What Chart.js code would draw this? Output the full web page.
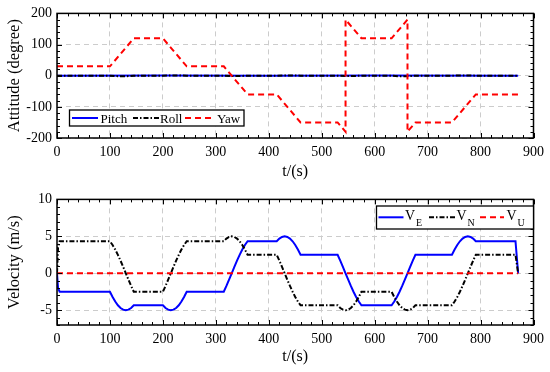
<!DOCTYPE html>
<html><head><meta charset="utf-8">
<script src="https://cdn.jsdelivr.net/npm/chart.js@4.4.0/dist/chart.umd.min.js"></script>
<style>
html,body{margin:0;padding:0;background:#fff;}
.w{position:absolute;left:0;width:550px;height:186px;}
#w1{top:0}#w2{top:186px}
</style></head><body>
<div class="w" id="w1"><canvas id="c1" width="550" height="186"></canvas></div>
<div class="w" id="w2"><canvas id="c2" width="550" height="186"></canvas></div>
<script>
// ---------- data ----------
const xTicks = [0,100,200,300,400,500,600,700,800,900];
const attTicks = [-200,-100,0,100,200];
const velTicks = [-5,0,5,10];

const yawT = [0,100,145,200,245,315,360,415,460,530,545,545,575,632,662,662,677,746,791,871];
const yawV = [30,30,120,120,30,30,-60,-60,-150,-150,-180,180,120,120,180,-180,-150,-150,-60,-60];
const pitchT = [0,200,400,600,871];
const pitchV = [0,0.5,0,0.5,0];
const rollT = [0,100,115,130,145,200,215,230,245,315,330,345,360,415,430,445,460,530,545,560,575,632,647,662,677,746,761,776,791,871];
const rollV = [0,0,-1.5,-2,0,0,1,1,0,0,-1,-1,0,0,1,1,0,0,-1,-1,0,0,-2,-1.5,0,0,1,1,0,0];

const velT = [0,2,5,
 100,105,110,115,120,125,130,135,140,145,
 200,205,210,215,220,225,230,235,240,245,
 315,320,325,330,335,340,345,350,355,360,
 415,420,425,430,435,440,445,450,455,460,
 530,535,540,545,550,555,560,565,570,575,
 632,637,642,647,652,657,662,667,672,677,
 746,751,756,761,766,771,776,781,786,791,
 866,871];
const veV = [0,-2.0,-2.5,
 -2.5,-3.21,-3.83,-4.33,-4.70,-4.92,-5.00,-4.92,-4.70,-4.33,
 -4.33,-4.70,-4.92,-5.00,-4.92,-4.70,-4.33,-3.83,-3.21,-2.50,
 -2.50,-1.71,-0.87,0,0.87,1.71,2.50,3.21,3.83,4.33,
 4.33,4.70,4.92,5.00,4.92,4.70,4.33,3.83,3.21,2.50,
 2.50,1.71,0.87,0,-0.87,-1.71,-2.50,-3.21,-3.83,-4.33,
 -4.33,-3.83,-3.21,-2.50,-1.71,-0.87,0,0.87,1.71,2.50,
 2.50,3.21,3.83,4.33,4.70,4.92,5.00,4.92,4.70,4.33,
 4.33,0];
const vnV = [0,3.5,4.33,
 4.33,3.83,3.21,2.50,1.71,0.87,0,-0.87,-1.71,-2.50,
 -2.50,-1.71,-0.87,0,0.87,1.71,2.50,3.21,3.83,4.33,
 4.33,4.70,4.92,5.00,4.92,4.70,4.33,3.83,3.21,2.50,
 2.50,1.71,0.87,0,-0.87,-1.71,-2.50,-3.21,-3.83,-4.33,
 -4.33,-4.70,-4.92,-5.00,-4.92,-4.70,-4.33,-3.83,-3.21,-2.50,
 -2.50,-3.21,-3.83,-4.33,-4.70,-4.92,-5.00,-4.92,-4.70,-4.33,
 -4.33,-3.83,-3.21,-2.50,-1.71,-0.87,0,0.87,1.71,2.50,
 2.50,0];
const vuT = [0,871];
const vuV = [0,0];

// ---------- helpers ----------
const FONT = "'Liberation Serif','Times New Roman',serif";
const pts = (t,v)=>t.map((x,i)=>({x:x,y:v[i]}));
const BLUE='#0000ff', RED='#ff0000', BLACK='#000000';
const DASHDOT=[5,2,1.5,2], DASH=[6,4];

function frameTicks(xMinor,yMinor,xMajor,yMajor){
  return {id:'frameTicks', afterDraw(chart){
    const {ctx, chartArea:a, scales:{x,y}} = chart;
    ctx.save();
    ctx.strokeStyle='#000'; ctx.lineWidth=1; ctx.setLineDash([]);
    ctx.beginPath();
    const n1=Math.round((x.max-x.min)/xMinor);
    for(let i=0;i<=n1;i++){
      const v=x.min+i*xMinor;
      const L=(Math.abs(v/xMajor-Math.round(v/xMajor))<1e-6)?5:3;
      const p=Math.round(x.getPixelForValue(v))+0.5;
      ctx.moveTo(p,a.bottom); ctx.lineTo(p,a.bottom-L);
      ctx.moveTo(p,a.top); ctx.lineTo(p,a.top+L);
    }
    const n2=Math.round((y.max-y.min)/yMinor);
    for(let i=0;i<=n2;i++){
      const v=y.min+i*yMinor;
      const L=(Math.abs(v/yMajor-Math.round(v/yMajor))<1e-6)?5:3;
      const p=Math.round(y.getPixelForValue(v))+0.5;
      ctx.moveTo(a.left,p); ctx.lineTo(a.left+L,p);
      ctx.moveTo(a.right,p); ctx.lineTo(a.right-L,p);
    }
    ctx.stroke();
    ctx.lineWidth=1.5;
    ctx.strokeRect(a.left,a.top,a.right-a.left,a.bottom-a.top);
    ctx.restore();
  }};
}

function legendPlugin(box, items){
  return {id:'legendBox', afterDraw(chart){
    const ctx=chart.ctx;
    ctx.save();
    ctx.fillStyle='#fff';
    ctx.fillRect(box.x,box.y,box.w,box.h);
    ctx.strokeStyle='#000'; ctx.lineWidth=1.3; ctx.setLineDash([]);
    ctx.strokeRect(box.x,box.y,box.w,box.h);
    items.forEach(it=>{
      ctx.strokeStyle=it.color; ctx.lineWidth=2; ctx.setLineDash(it.dash||[]);
      ctx.beginPath(); ctx.moveTo(it.x1,box.ly); ctx.lineTo(it.x2,box.ly); ctx.stroke();
      ctx.setLineDash([]);
      ctx.fillStyle='#000';
      ctx.textBaseline='alphabetic'; ctx.textAlign='left';
      ctx.font=box.fs+'px '+FONT;
      ctx.fillText(it.text,it.tx,box.tb);
      if(it.sub){
        const w=ctx.measureText(it.text).width;
        ctx.font=box.sfs+'px '+FONT;
        ctx.fillText(it.sub,it.tx+w+1,box.sb);
      }
    });
    ctx.restore();
  }};
}

function makeChart(id, datasets, yMin, yMax, yTicks, yTitle, xH, titlePad, plugins){
  return new Chart(document.getElementById(id), {
    type:'line',
    data:{datasets:datasets},
    options:{
      responsive:false, animation:false, devicePixelRatio:1,
      layout:{padding:{left:0,right:15,top:13,bottom:0}},
      plugins:{legend:{display:false}, tooltip:{enabled:false}},
      elements:{point:{radius:0}, line:{tension:0, borderWidth:2}},
      scales:{
        x:{type:'linear', min:0, max:900,
          afterBuildTicks:s=>{s.ticks=xTicks.map(v=>({value:v}));},
          afterFit:s=>{s.height=xH;},
          grid:{color:'#cccccc', lineWidth:1, drawTicks:false},
          border:{display:false, dash:[5,4]},
          ticks:{padding:6, color:'#000', maxRotation:0, font:{family:FONT,size:14}},
          title:{display:true, text:'t/(s)', color:'#000', padding:{top:0,bottom:titlePad}, font:{family:FONT,size:16}}
        },
        y:{type:'linear', min:yMin, max:yMax,
          afterBuildTicks:s=>{s.ticks=yTicks.map(v=>({value:v}));},
          afterFit:s=>{s.width=57;},
          grid:{color:'#cccccc', lineWidth:1, drawTicks:false},
          border:{display:false, dash:[5,4]},
          ticks:{padding:5, color:'#000', font:{family:FONT,size:14}},
          title:{display:true, text:yTitle, color:'#000', padding:{top:5,bottom:0}, font:{family:FONT,size:16.5}}
        }
      }
    },
    plugins:plugins
  });
}

makeChart('c1', [
  {label:'Pitch', data:pts(pitchT,pitchV), borderColor:BLUE, order:2},
  {label:'Roll', data:pts(rollT,rollV), borderColor:BLACK, borderDash:DASHDOT, order:1},
  {label:'Yaw', data:pts(yawT,yawV), borderColor:RED, borderDash:DASH, order:0}
], -200, 200, attTicks, 'Attitude (degree)', 48, 4.7, [
  frameTicks(20,20,100,100),
  legendPlugin({x:69.5,y:110,w:174.5,h:16,ly:118,tb:122.5,fs:13,sfs:10,sb:0},[
    {color:BLUE,x1:72,x2:98,text:'Pitch',tx:100.5},
    {color:BLACK,dash:DASHDOT,x1:133,x2:159,text:'Roll',tx:160},
    {color:RED,dash:DASH,x1:185,x2:215,text:'Yaw',tx:217}
  ])
]);

makeChart('c2', [
  {label:'VE', data:pts(velT,veV), borderColor:BLUE, order:2},
  {label:'VN', data:pts(velT,vnV), borderColor:BLACK, borderDash:DASHDOT, order:1},
  {label:'VU', data:pts(vuT,vuV), borderColor:RED, borderDash:DASH, order:0}
], -7, 10, velTicks, 'Velocity (m/s)', 47, 5.7, [
  frameTicks(20,1,100,5),
  legendPlugin({x:376.5,y:20,w:157,h:23,ly:31.3,tb:33.5,fs:14,sfs:10,sb:39.5},[
    {color:BLUE,x1:378.5,x2:403.5,text:'V',sub:'E',tx:405},
    {color:BLACK,dash:DASHDOT,x1:429,x2:455,text:'V',sub:'N',tx:456.5},
    {color:RED,dash:DASH,x1:480,x2:504,text:'V',sub:'U',tx:506.5}
  ])
]);
</script>
</body></html>
